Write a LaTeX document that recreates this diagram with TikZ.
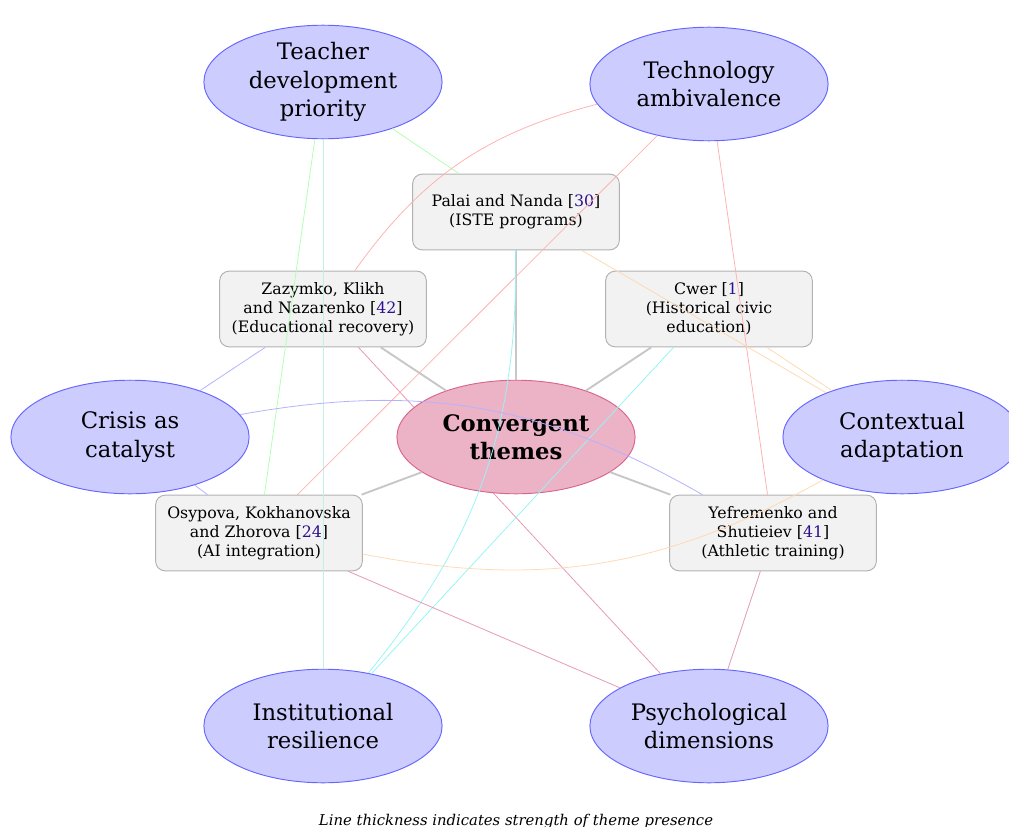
\documentclass[tikz,border=0pt]{standalone}
\usepackage{fontspec}
\setmainfont{DejaVu Serif}
\usetikzlibrary{shapes.geometric}
\definecolor{citeblue}{rgb}{0.18,0.06,0.55}
\definecolor{linkcyan}{RGB}{150,245,245}
\definecolor{paleteal}{RGB}{195,240,230}
\newcommand{\refnum}[1]{[\textcolor{citeblue}{#1}]}

\begin{document}
\begin{tikzpicture}[x=0.634pt,y=-0.634pt,
  theme/.style={ellipse,draw=blue!60,fill=blue!20,line width=0.6pt,
    minimum width=151pt,minimum height=72pt,inner sep=0pt,align=center,font=\Large},
  hub/.style={ellipse,draw=purple!60,fill=purple!30,line width=0.6pt,
    minimum width=151pt,minimum height=72pt,inner sep=0pt,align=center,font=\Large\bfseries},
  paper/.style={rectangle,rounded corners=6pt,draw=black!30,fill=black!5,line width=0.6pt,
    minimum width=131pt,minimum height=48pt,align=center},
  spoke/.style={black!22,line width=1.2pt},
  link/.style={line width=0.5pt}]
\useasboundingbox (0,0) rectangle (1009,827);

% themes
\node[theme] (teacher) at (323,82) {Teacher\\development\\priority};
\node[theme] (tech) at (709,84) {Technology\\ambivalence};
\node[theme] (crisis) at (130,437) {Crisis as\\catalyst};
\node[theme] (context) at (902,437) {Contextual\\adaptation};
\node[theme] (inst) at (323,726) {Institutional\\resilience};
\node[theme] (psych) at (709,726) {Psychological\\dimensions};

% papers
\node[paper] (palai) at (516,212) {Palai and Nanda \refnum{30}\\(ISTE programs)};
\node[paper] (zaz) at (323,309) {Zazymko, Klikh\\and Nazarenko \refnum{42}\\(Educational recovery)};
\node[paper] (cwer) at (709,309) {Cwer \refnum{1}\\(Historical civic\\education)};
\node[paper] (osy) at (259,533) {Osypova, Kokhanovska\\and Zhorova \refnum{24}\\(AI integration)};
\node[paper] (yef) at (773,533) {Yefremenko and\\Shutieiev \refnum{41}\\(Athletic training)};

\draw[link,purple!40] (zaz) -- (psych);

\node[hub] (hub) at (516,437) {Convergent\\themes};

% hub to papers
\draw[spoke] (hub) -- (palai);
\draw[spoke] (hub) -- (zaz);
\draw[spoke] (hub) -- (cwer);
\draw[spoke] (hub) -- (osy);
\draw[spoke] (hub) -- (yef);

% themes to papers
\draw[link,green!30] (teacher) -- (palai);
\draw[link,green!30] (teacher) -- (osy);
\draw[link,paleteal] (teacher) -- (inst);
\draw[link,red!30] (tech) to[bend right=20] (zaz);
\draw[link,red!30] (tech) -- (osy);
\draw[link,red!30] (tech) -- (yef);
\draw[link,linkcyan] (palai) to[bend left=20] (inst);
\draw[link,linkcyan] (cwer) -- (inst);
\draw[link,orange!30] (palai) -- (context);
\draw[link,orange!30] (cwer) -- (context);
\draw[link,orange!30] (osy) to[bend right=20] (context);
\draw[link,blue!30] (crisis) -- (zaz);
\draw[link,blue!30] (crisis) -- (osy);
\draw[link,blue!30] (crisis) to[bend left=20] (yef);
\draw[link,purple!40] (osy) -- (psych);
\draw[link,purple!40] (yef) -- (psych);

\node[font=\fontsize{9.4}{11}\selectfont\itshape,anchor=base] (note) at (516,825) {Line thickness indicates strength of theme presence};
\end{tikzpicture}
\end{document}
